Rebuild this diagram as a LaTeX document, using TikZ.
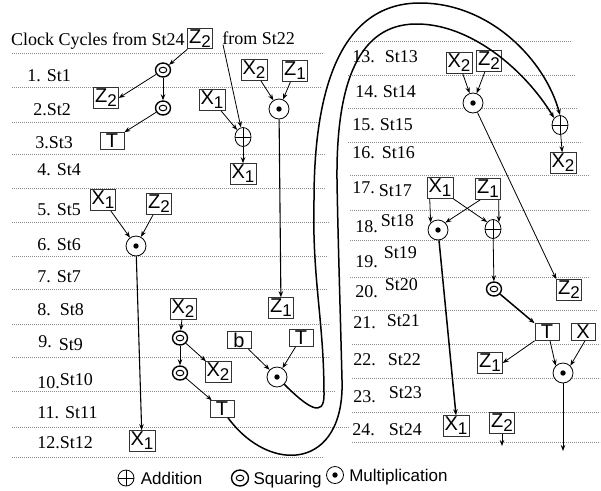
\documentclass[tikz,border=0pt]{standalone}
\usepackage{fontspec}
\setmainfont{Liberation Serif}
\setsansfont{Liberation Sans}
\usetikzlibrary{arrows.meta,positioning,shapes.geometric}
\newcommand\regsub[1]{\raisebox{-4pt}{\fontsize{17}{17}\selectfont #1}}

\begin{document}
\begin{tikzpicture}[x=1pt,y=-1pt,>={Stealth[length=6pt,width=4.5pt]},
 font=\fontsize{18}{20}\selectfont,line width=0.8pt,
 grid/.style={black!45,line width=0.7pt,dash pattern=on 0.8pt off 1.2pt},
 lbl/.style={anchor=base west,inner sep=0pt},
 reg/.style={draw=black!80,fill=white,inner sep=1.5pt,minimum width=24pt,font=\sffamily\fontsize{20}{20}\selectfont},
 sqr/.style={ellipse,draw,fill=white,line width=1.4pt,minimum width=15pt,minimum height=14pt,inner sep=0pt,
   path picture={\draw[line width=1pt] (path picture bounding box.center) ellipse (3.8pt and 2.8pt);}},
 mul/.style={circle,draw,fill=white,minimum size=20pt,inner sep=0pt,
   path picture={\fill[black] (path picture bounding box.center) circle (2.7pt);}},
 add/.style={ellipse,draw,fill=white,minimum width=16pt,minimum height=19pt,inner sep=0pt,
   path picture={\draw (path picture bounding box.north) -- (path picture bounding box.south)
     (path picture bounding box.west) -- (path picture bounding box.east);}},
 lgd/.style={inner sep=0pt,text depth=0pt,font=\sffamily\fontsize{17}{17}\selectfont},
 hv/.style={line width=1.5pt}]
\useasboundingbox (0,0) rectangle (601,490);

% clock cycle rows
\draw[grid] (12,53) -- (323,53) (12,87) -- (322,87) (12,122) -- (320,122) (12,154) -- (325,154)
 (12,188) -- (325,188) (12,222) -- (330,222) (12,256) -- (328,256) (12,289) -- (328,289)
 (12,324) -- (330,324) (12,357) -- (330,357) (12,391) -- (335,391) (12,427) -- (350,427) (12,457) -- (323,457);
\draw[grid] (348,41) -- (572,41) (348,75) -- (575,75) (348,108) -- (578,108) (348,142) -- (582,142)
 (350,175) -- (590,175) (350,210) -- (590,210) (350,240) -- (590,240) (350,277) -- (590,277)
 (352,310) -- (597,310) (352,344) -- (600,344) (352,378) -- (600,378) (352,412) -- (600,412) (352,442) -- (600,442);

\node[lbl] (r1) at (27,81) {1.\hspace{6pt}St1};
\node[lbl] (r2) at (33,115) {2.St2};
\node[lbl] (r3) at (35,148) {3.St3};
\node[lbl] (r4) at (37,175) {4.\hspace{6pt}St4};
\node[lbl] (r5) at (37,215) {5.\hspace{6pt}St5};
\node[lbl] (r6) at (37,250) {6.\hspace{6pt}St6};
\node[lbl] (r7) at (37,282) {7.\hspace{6pt}St7};
\node[lbl] (r8) at (37,315) {8.\hspace{9pt}St8};
\node[lbl] (r9) at (38,350) {\raisebox{3pt}{9.}\hspace{7pt}St9};
\node[lbl] (r10) at (37,388) {10.\raisebox{3pt}{St10}};
\node[lbl] (r11) at (37,418) {11.\hspace{6pt}St11};
\node[lbl] (r12) at (37,448) {12.St12};
\node[lbl] (r13) at (352,62) {13.\hspace{10pt}St13};
\node[lbl] (r14) at (355,97) {14.\hspace{5pt}St14};
\node[lbl] (r15) at (352,130) {15.\hspace{5pt}St15};
\node[lbl] (r16) at (352,158) {16.\hspace{7pt}St16};
\node[lbl] (r17) at (352,193) {17.\hspace{4pt}\raisebox{-3pt}{St17}};
\node[lbl] (r18) at (355,232) {18.\hspace{3pt}\raisebox{6pt}{St18}};
\node[lbl] (r19) at (355,267) {19.\hspace{6pt}\raisebox{9pt}{St19}};
\node[lbl] (r20) at (355,297) {20.\hspace{7pt}\raisebox{7pt}{St20}};
\node[lbl] (r21) at (353,328) {21.\hspace{11pt}\raisebox{2pt}{St21}};
\node[lbl] (r22) at (353,365) {22.\hspace{12pt}St22};
\node[lbl] (r23) at (353,402) {23.\hspace{13pt}\raisebox{4pt}{St23}};
\node[lbl] (r24) at (352,435) {24.\hspace{14pt}St24};

% first half
\node[reg] (z2top) at (200,38.5) {Z\regsub{2}};
\node[lbl,anchor=base east] (clk) at (185,45) {Clock Cycles from St24};
\node[lbl] (fromtxt) at (222,44) {from St22};
\node[sqr] (sqA) at (163,70) {};
\node[sqr] (sqB) at (163,108) {};
\node[reg] (z2a) at (106,98) {Z\regsub{2}};
\node[reg] (ta) at (112,141) {T};
\node[reg] (x1a) at (212,100) {X\regsub{1}};
\node[add] (adA) at (243,137) {};
\node[reg] (x1b) at (243,174) {X\regsub{1}};
\node[reg] (x2a) at (254,70) {X\regsub{2}};
\node[reg] (z1a) at (295,71) {Z\regsub{1}};
\node[mul] (mulA) at (279,109) {};
\node[reg] (z1b) at (281,308) {Z\regsub{1}};
\node[reg] (x1c) at (103,200) {X\regsub{1}};
\node[reg] (z2b) at (159,204) {Z\regsub{2}};
\node[mul] (mulB) at (136,246) {};
\node[reg] (x1d) at (142,441) {X\regsub{1}};
\node[reg] (x2b) at (183,309) {X\regsub{2}};
\node[sqr] (sqC) at (180,338) {};
\node[sqr] (sqD) at (180,373) {};
\node[reg] (x2c) at (218,372) {X\regsub{2}};
\node[reg] (tb) at (222,409) {T};
\node[reg] (bb) at (239,340) {b};
\node[reg] (tc) at (301,338) {T};
\node[mul] (mulC) at (277,377) {};

\draw[->] (z2top) -- (sqA);
\draw[->] ([xshift=1pt]fromtxt.south west) -- (adA);
\draw[->] (sqA) -- (z2a.east);
\draw[->] (sqA) -- (sqB);
\draw[->] (sqB) -- (ta.north east);
\draw[->] (x1a) -- (adA);
\draw[->] (adA) -- (x1b);
\draw[->] (x2a) -- (mulA);
\draw[->] (z1a) -- (mulA);
\draw[->,line width=1.1pt] (mulA) -- (z1b);
\draw[->] (x1c) -- (mulB);
\draw[->] (z2b) -- (mulB);
\draw[->,line width=1.1pt] (mulB) -- (x1d);
\draw[->] (x2b) -- (sqC);
\draw[->] (sqC) -- (sqD);
\draw[->] (sqC) -- (x2c);
\draw[->] (sqD) -- (tb);
\draw[->] (bb) -- (mulC);
\draw[->] (tc) -- (mulC);

% second half
\node[reg] (x2d) at (459,63) {X\regsub{2}};
\node[reg] (z2c) at (489,61) {Z\regsub{2}};
\node[mul] (mulD) at (473,103) {};
\node[add] (adB) at (560,125) {};
\node[reg] (x2e) at (563,163) {X\regsub{2}};
\node[reg] (z2d) at (569,290) {Z\regsub{2}};
\node[reg] (x1e) at (440,188) {X\regsub{1}};
\node[reg] (z1c) at (488,189) {Z\regsub{1}};
\node[mul] (mulE) at (438,230) {};
\node[add] (adC) at (493,229) {};
\node[sqr] (sqE) at (494,289) {};
\node[reg] (tdd) at (547,332) {T};
\node[reg] (xx) at (583,332) {X};
\node[mul] (mulF) at (563,373) {};
\node[reg] (z1d) at (490,363) {Z\regsub{1}};
\node[reg] (x1f) at (456,426) {X\regsub{1}};
\node[reg] (z2e) at (502,423) {Z\regsub{2}};
\coordinate (endF) at (563,451);
\coordinate (endZ) at (502,446);

\draw[->] (x2d) -- (mulD);
\draw[->] (z2c) -- (mulD);
\draw[->] (mulD) -- (z2d.north west);
\draw[->] (adB) -- (x2e);
\draw[->] ([xshift=3pt]x1e.south west) -- (mulE.north west);
\draw[->] (x1e.south east) -- (adC.north west);
\draw[->] ([xshift=5pt]z1c.south west) -- (mulE.north east);
\draw[->] ([xshift=-2pt]z1c.south east) -- (adC.north east);
\draw[->] (adC) -- (sqE);
\draw[->,hv] (sqE) -- (tdd.north west);
\draw[->] (tdd.south west) -- (z1d.east);
\draw[->] ([xshift=3pt]tdd.south) -- (mulF.north west);
\draw[->] ([xshift=2pt]xx.south) -- (mulF.north east);
\draw[->] (mulF) -- (endF);
\draw[->,hv] (mulE) -- (x1f.north);
\draw[->] (z2e) -- (endZ);

% long paths into St15
\draw[->,hv] (mulC.south east) .. controls (308,408) and (324,418) .. (324,395)
 .. controls (324,320) and (312,280) .. (314,200)
 .. controls (314,80) and (345,3) .. (420,3)
 .. controls (490,3) and (545,60) .. (adB.north);
\draw[->,hv] ([xshift=6pt]tb.south) .. controls (270,475) and (345,470) .. (342,380)
 .. controls (340,300) and (338,240) .. (337,180)
 .. controls (336,80) and (360,25) .. (415,24)
 .. controls (470,23) and (525,70) .. (adB.north west);

% legend
\node[add,minimum width=16pt,minimum height=16pt] (lgadd) at (126,478) {};
\node[lgd,right=6pt of lgadd] (lgaddtxt) {Addition};
\node[sqr,minimum width=17pt,minimum height=16pt] (lgsqr) at (240,478) {};
\node[lgd,right=4pt of lgsqr] (lgsqrtxt) {Squaring};
\node[mul,minimum size=17pt] (lgmul) at (335,475) {};
\node[lgd,right=5pt of lgmul] (lgmultxt) {Multiplication};
\end{tikzpicture}
\end{document}
